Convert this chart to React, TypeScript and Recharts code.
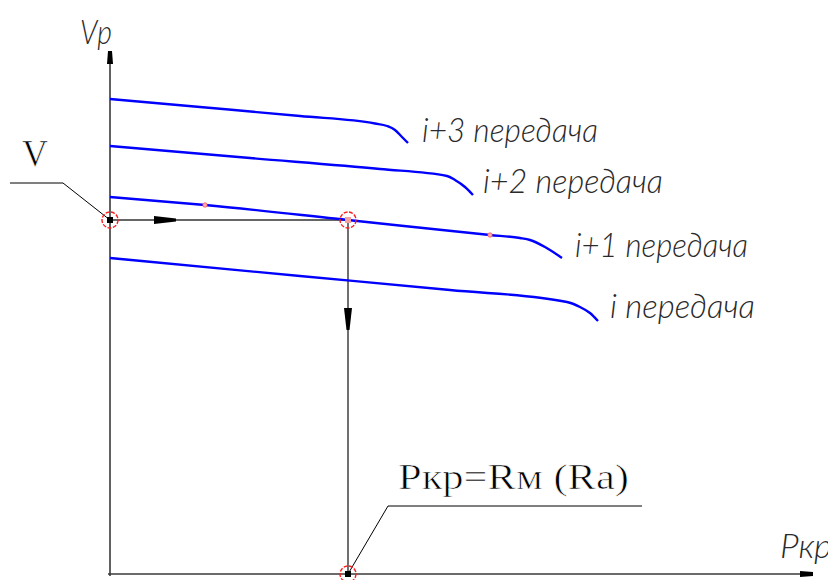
import React from "react";
import { ComposedChart, Line, Scatter, XAxis, YAxis } from "recharts";

// Vр (y) against Pкр (x), arbitrary units, origin at the axes crossing
const gearI3 = [
  { x: 0, y: 475 }, { x: 90, y: 467 }, { x: 190, y: 458 }, { x: 265, y: 450.5 },
  { x: 277, y: 448 }, { x: 285, y: 444 }, { x: 292, y: 437 }, { x: 298, y: 431 },
];
const gearI2 = [
  { x: 0, y: 428 }, { x: 140, y: 416 }, { x: 270, y: 405 }, { x: 337, y: 398 },
  { x: 345, y: 394 }, { x: 355, y: 387 }, { x: 363, y: 379 },
];
const gearI1 = [
  { x: 0, y: 377 }, { x: 95, y: 369 }, { x: 238, y: 354 }, { x: 380, y: 339 },
  { x: 410, y: 336 }, { x: 420, y: 334 }, { x: 435, y: 327 }, { x: 452, y: 316 },
];
const gearI = [
  { x: 0, y: 316 }, { x: 190, y: 298 }, { x: 340, y: 284 }, { x: 457, y: 272 },
  { x: 470, y: 267 }, { x: 480, y: 261 }, { x: 488, y: 253 },
];

const axisY = [{ x: 0, y: -2 }, { x: 0, y: 522 }];
const axisX = [{ x: -2, y: 0 }, { x: 703, y: 0 }];
const pathAcross = [{ x: 0, y: 354 }, { x: 238, y: 354 }];
const pathDown = [{ x: 238, y: 354 }, { x: 238, y: 0 }];
const leaderV = [{ x: -100, y: 391 }, { x: -47, y: 391 }, { x: 0, y: 354 }];
const leaderP = [{ x: 238, y: 0 }, { x: 278, y: 68 }, { x: 532, y: 68 }];

const nodes = [{ x: 0, y: 354 }, { x: 238, y: 354 }, { x: 238, y: 0 }];
const marks = [{ x: 95, y: 369 }, { x: 380, y: 339 }];
const arrows = [
  { x: 0, y: 523, dir: "up" },
  { x: 703, y: 0, dir: "right" },
  { x: 66, y: 354, dir: "right" },
  { x: 238, y: 244, dir: "down" },
];

const gearLabels = [
  { x: 312, y: 432, text: "i+3 передача" },
  { x: 373, y: 381, text: "i+2 передача" },
  { x: 465, y: 317, text: "i+1 передача" },
  { x: 500, y: 256, text: "i передача" },
  { x: -30, y: 530, text: "Vр" },
  { x: 670, y: 16, text: "Ркр" },
];
const serifLabels = [
  { x: -88, y: 408, text: "V" },
  { x: 288, y: 85, text: "Ркр=Rм (Ra)" },
];

const gearWidths = [176, 180, 173, 145, 32, 52];
const serifWidths = [26, 231];
const serifSizes = [38, 35];

const angle: Record<string, number> = { up: -90, right: 0, down: 90 };

function Arrow(props: any) {
  const { cx, cy, payload } = props;
  const axis = payload.dir === "up" || payload.x > 600;
  const len = axis ? 13 : 22;
  const back = axis ? 6 : 8;
  const front = axis ? 4 : 3;
  return (
    <polygon
      transform={`translate(${cx},${cy}) rotate(${angle[payload.dir]})`}
      points={`0,${-front / 2} 0,${front / 2} ${-len},${back / 2} ${-len},${-back / 2}`}
      fill="#000"
    />
  );
}

function Node(props: any) {
  const { cx, cy, index } = props;
  return (
    <g>
      <circle cx={cx} cy={cy} r={8} fill="none" stroke="#ff1a1a" strokeWidth={1.4} strokeDasharray="4 1.5" />
      <rect x={cx - 3} y={cy - 3} width={6} height={6} fill={index === 1 ? "#f5a0a0" : "#000"} />
    </g>
  );
}

function Mark(props: any) {
  const { cx, cy } = props;
  return <circle cx={cx} cy={cy} r={2.2} fill="#ffb0b0" stroke="#ff5050" strokeWidth={0.8} />;
}

function GearText(props: any) {
  const { cx, cy, payload, index } = props;
  return (
    <text
      x={cx}
      y={cy}
      textLength={gearWidths[index]}
      lengthAdjust="spacingAndGlyphs"
      fontFamily="Lato, 'DejaVu Sans', sans-serif"
      fontStyle="italic"
      fontWeight={300}
      fontSize={33}
      fill="#2a2a2a"
    >
      {payload.text}
    </text>
  );
}

function SerifText(props: any) {
  const { cx, cy, payload, index } = props;
  return (
    <text
      x={cx}
      y={cy}
      textLength={serifWidths[index]}
      lengthAdjust="spacingAndGlyphs"
      fontFamily="'Liberation Serif', 'DejaVu Serif', serif"
      fontSize={serifSizes[index]}
      fill="#000"
      stroke="#fff"
      strokeWidth={0.7}
    >
      {payload.text}
    </text>
  );
}

const blue = { stroke: "#0000ff", strokeWidth: 2.4, dot: false, activeDot: false, isAnimationActive: false } as const;
const thin = { type: "linear", dot: false, activeDot: false, isAnimationActive: false } as const;

export default function App() {
  return (
    <div style={{ position: "absolute", left: 0, top: 0, width: 828, height: 580, background: "#fff" }}>
      <ComposedChart width={828} height={580} margin={{ top: 0, right: 0, bottom: 0, left: 0 }}>
        <XAxis type="number" dataKey="x" domain={[-110, 718]} allowDataOverflow hide />
        <YAxis type="number" dataKey="y" domain={[-6, 574]} allowDataOverflow hide />

        <Line {...thin} data={axisY} dataKey="y" stroke="#3a3a3a" strokeWidth={1.6} />
        <Line {...thin} data={axisX} dataKey="y" stroke="#3a3a3a" strokeWidth={1.6} />
        <Line {...thin} data={pathAcross} dataKey="y" stroke="#333" strokeWidth={1.4} />
        <Line {...thin} data={pathDown} dataKey="y" stroke="#333" strokeWidth={1.4} />
        <Line {...thin} data={leaderV} dataKey="y" stroke="#000" strokeWidth={1} />
        <Line {...thin} data={leaderP} dataKey="y" stroke="#000" strokeWidth={1} />

        <Line {...blue} type="monotone" data={gearI3} dataKey="y" />
        <Line {...blue} type="monotone" data={gearI2} dataKey="y" />
        <Line {...blue} type="monotone" data={gearI1} dataKey="y" />
        <Line {...blue} type="monotone" data={gearI} dataKey="y" />

        <Scatter data={arrows} shape={Arrow} isAnimationActive={false} />
        <Scatter data={nodes} shape={Node} isAnimationActive={false} />
        <Scatter data={marks} shape={Mark} isAnimationActive={false} />
        <Scatter data={gearLabels} shape={GearText} isAnimationActive={false} />
        <Scatter data={serifLabels} shape={SerifText} isAnimationActive={false} />
      </ComposedChart>
    </div>
  );
}
